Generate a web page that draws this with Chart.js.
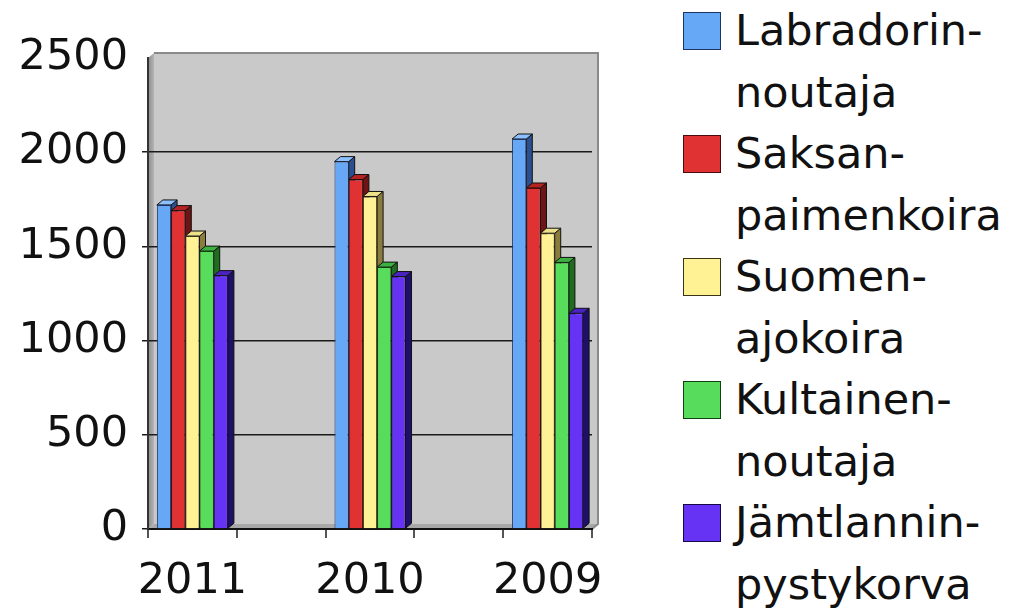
<!DOCTYPE html>
<html>
<head>
<meta charset="utf-8">
<script src="https://cdn.jsdelivr.net/npm/chart.js@4/dist/chart.umd.min.js"></script>
<style>
  body { margin: 0; background: #fff; }
  #wrap { position: relative; width: 1011px; height: 612px; overflow: hidden; }
  #chartBox { position: absolute; left: 0; top: 0; width: 640px; height: 612px; }
  #legend { position: absolute; left: 683px; top: 0; font-family: "DejaVu Sans", sans-serif; font-size: 43px; line-height: 61.5px; color: #111; }
  .item { position: relative; height: 123px; }
  .box { position: absolute; left: 0; top: 12px; width: 36px; height: 36px; border: 1.5px solid #222; }
  .txt { position: absolute; left: 52px; top: 0; white-space: nowrap; }
</style>
</head>
<body>
<div id="wrap">
  <div id="chartBox"><canvas id="dogChart"></canvas></div>
  <div id="legend"></div>
</div>
<script>
// years (empty slots between them, as in the original sheet)
const years = ["2011", "", "2010", "", "2009"];

// registrations per breed
const labradori = [1720, null, 1950, null, 2070];
const saksanpaimen = [1690, null, 1855, null, 1810];
const suomenajo = [1555, null, 1765, null, 1570];
const kultainen = [1475, null, 1390, null, 1415];
const jamtlannin = [1345, null, 1340, null, 1145];

const breedNames = [
  ["Labradorin-", "noutaja"],
  ["Saksan-", "paimenkoira"],
  ["Suomen-", "ajokoira"],
  ["Kultainen-", "noutaja"],
  ["Jämtlannin-", "pystykorva"]
];

const yTicks = [0, 500, 1000, 1500, 2000, 2500];

const fronts = ["#66a8f5", "#e03232", "#fff294", "#58dc5c", "#6633f5"];
const sides = ["#2b4f8f", "#6e1414", "#8a7c3c", "#1f6e1f", "#1e0f6a"];
const tops = ["#8cc0ff", "#b42222", "#ece088", "#3cb040", "#4a22c0"];
const edges = ["#1d3563", "#4a0c0c", "#3a3418", "#124012", "#140a48"];

const DX = 6, DY = 5;

// gray walls behind the bars
const wallsPlugin = {
  id: "walls",
  beforeDraw(chart) {
    const { ctx, chartArea: a } = chart;
    ctx.save();
    ctx.fillStyle = "#c9c9c9";
    ctx.fillRect(a.left + DX, a.top - DY, a.right - a.left, a.bottom - a.top);
    const g = ctx.createLinearGradient(a.left, 0, a.left + DX, 0);
    g.addColorStop(0, "#8c8c8c");
    g.addColorStop(1, "#b4b4b4");
    ctx.fillStyle = g;
    ctx.beginPath();
    ctx.moveTo(a.left, a.top);
    ctx.lineTo(a.left + DX, a.top - DY);
    ctx.lineTo(a.left + DX, a.bottom - DY);
    ctx.lineTo(a.left, a.bottom);
    ctx.closePath();
    ctx.fill();
    ctx.fillStyle = "#a8a8a8";
    ctx.beginPath();
    ctx.moveTo(a.left, a.bottom);
    ctx.lineTo(a.left + DX, a.bottom - DY);
    ctx.lineTo(a.right + DX, a.bottom - DY);
    ctx.lineTo(a.right, a.bottom);
    ctx.closePath();
    ctx.fill();
    ctx.strokeStyle = "#8a8a8a";
    ctx.lineWidth = 2;
    ctx.beginPath();
    ctx.moveTo(a.left + DX, a.top - DY);
    ctx.lineTo(a.right + DX, a.top - DY);
    ctx.lineTo(a.right + DX, a.bottom - DY);
    ctx.lineTo(a.right, a.bottom);
    ctx.stroke();
    ctx.restore();
  }
};

// side and top faces of each bar
const depthPlugin = {
  id: "depth",
  beforeDatasetsDraw(chart) {
    const ctx = chart.ctx;
    ctx.save();
    ctx.lineWidth = 1;
    chart.data.datasets.forEach((ds, di) => {
      const meta = chart.getDatasetMeta(di);
      meta.data.forEach((bar, i) => {
        if (ds.data[i] == null) return;
        const p = bar.getProps(["x", "y", "base", "width"], true);
        const l = p.x - p.width / 2, r = p.x + p.width / 2;
        ctx.strokeStyle = "#111";
        ctx.fillStyle = sides[di];
        ctx.beginPath();
        ctx.moveTo(r, p.y);
        ctx.lineTo(r + DX, p.y - DY);
        ctx.lineTo(r + DX, p.base - DY);
        ctx.lineTo(r, p.base);
        ctx.closePath();
        ctx.fill();
        ctx.stroke();
        ctx.fillStyle = tops[di];
        ctx.beginPath();
        ctx.moveTo(l, p.y);
        ctx.lineTo(l + DX, p.y - DY);
        ctx.lineTo(r + DX, p.y - DY);
        ctx.lineTo(r, p.y);
        ctx.closePath();
        ctx.fill();
        ctx.stroke();
      });
    });
    ctx.restore();
  }
};

const series = [labradori, saksanpaimen, suomenajo, kultainen, jamtlannin];

new Chart(document.getElementById("dogChart"), {
  type: "bar",
  data: {
    labels: years,
    datasets: series.map((vals, i) => ({
      label: breedNames[i].join(""),
      data: vals,
      backgroundColor: fronts[i],
      borderColor: edges[i],
      borderWidth: 1,
      categoryPercentage: 0.8,
      barPercentage: 1.0
    }))
  },
  options: {
    responsive: true,
    maintainAspectRatio: false,
    animation: false,
    layout: { padding: { top: 58, right: 48, left: 0, bottom: 0 } },
    plugins: {
      legend: { display: false },
      tooltip: { enabled: false }
    },
    scales: {
      x: {
        afterFit(scale) { scale.height = 83; },
        grid: { drawOnChartArea: false, drawTicks: true, tickLength: 9, color: "#555", lineWidth: 2 },
        border: { color: "#111", width: 2 },
        ticks: {
          color: "#111",
          padding: 18,
          autoSkip: false,
          maxRotation: 0,
          minRotation: 0,
          font: { family: "DejaVu Sans", size: 43 }
        }
      },
      y: {
        min: 0,
        max: 2500,
        afterFit(scale) { scale.width = 148; },
        afterBuildTicks(scale) { scale.ticks = yTicks.map(v => ({ value: v })); },
        grid: {
          tickLength: 6,
          lineWidth: 1.5,
          color: ctx => (ctx.tick && ctx.tick.value === 2500 ? "rgba(0,0,0,0)" : "#1a1a1a")
        },
        border: { color: "#333", width: 2 },
        ticks: {
          color: "#111",
          padding: 14,
          callback: v => String(v),
          font: { family: "DejaVu Sans", size: 43 }
        }
      }
    }
  },
  plugins: [wallsPlugin, depthPlugin]
});

// legend on the right
const legend = document.getElementById("legend");
breedNames.forEach((name, i) => {
  const item = document.createElement("div");
  item.className = "item";
  item.innerHTML = `<div class="box" style="background:${fronts[i]};border-color:${edges[i]}"></div>
    <div class="txt">${name[0]}<br>${name[1]}</div>`;
  legend.appendChild(item);
});
</script>
</body>
</html>
